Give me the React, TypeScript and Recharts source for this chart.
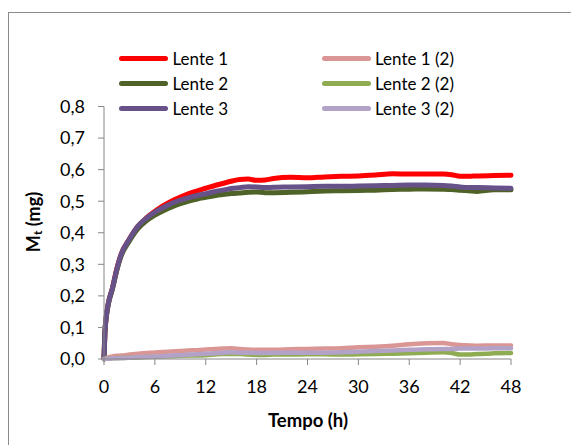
import { LineChart, Line, XAxis, YAxis } from "recharts";

const FONT = "Lato, 'Open Sans', sans-serif";

// tempo (h)
const tempo = [
  0, 0.1, 0.25, 0.5, 1, 1.5, 2, 3, 4, 5, 6, 7, 8, 9, 10, 11, 12, 13, 14, 15,
  16, 17, 18, 19, 20, 22, 24, 26, 28, 30, 32, 34, 36, 38, 40, 41, 42, 43, 44,
  46, 48,
];

const lente1 = [
  0, 0.08, 0.13, 0.175, 0.225, 0.285, 0.33, 0.38, 0.42, 0.447, 0.468, 0.486,
  0.501, 0.513, 0.524, 0.533, 0.541, 0.549, 0.556, 0.563, 0.569, 0.57, 0.566,
  0.567, 0.572, 0.576, 0.574, 0.577, 0.579, 0.58, 0.583, 0.587, 0.586, 0.586,
  0.586, 0.584, 0.579, 0.579, 0.58, 0.581, 0.582,
];
const lente2 = [
  0, 0.08, 0.128, 0.172, 0.222, 0.28, 0.325, 0.374, 0.413, 0.438, 0.456, 0.47,
  0.482, 0.492, 0.5, 0.507, 0.512, 0.517, 0.521, 0.524, 0.526, 0.528, 0.529,
  0.527, 0.527, 0.528, 0.53, 0.532, 0.533, 0.534, 0.535, 0.537, 0.538, 0.539,
  0.538, 0.537, 0.535, 0.533, 0.531, 0.536, 0.536,
];
const lente3 = [
  0, 0.081, 0.13, 0.175, 0.225, 0.283, 0.33, 0.38, 0.421, 0.446, 0.465, 0.48,
  0.493, 0.503, 0.511, 0.518, 0.524, 0.53, 0.535, 0.54, 0.543, 0.546, 0.545,
  0.543, 0.544, 0.545, 0.546, 0.547, 0.547, 0.548, 0.549, 0.55, 0.551, 0.551,
  0.55, 0.548, 0.545, 0.543, 0.543, 0.542, 0.541,
];
const lente1b = [
  0, 0.001, 0.003, 0.005, 0.008, 0.01, 0.011, 0.014, 0.017, 0.019, 0.021,
  0.022, 0.024, 0.025, 0.027, 0.028, 0.03, 0.032, 0.033, 0.034, 0.032, 0.03,
  0.029, 0.029, 0.029, 0.031, 0.032, 0.033, 0.034, 0.037, 0.039, 0.042, 0.047,
  0.05, 0.051, 0.047, 0.044, 0.043, 0.042, 0.043, 0.043,
];
const lente2b = [
  0, 0, 0.001, 0.001, 0.002, 0.003, 0.003, 0.004, 0.005, 0.006, 0.007, 0.008,
  0.009, 0.01, 0.011, 0.011, 0.012, 0.014, 0.016, 0.016, 0.016, 0.014, 0.013,
  0.013, 0.014, 0.014, 0.015, 0.015, 0.014, 0.015, 0.016, 0.017, 0.018, 0.02,
  0.021, 0.019, 0.014, 0.014, 0.016, 0.018, 0.019,
];
const lente3b = [
  0, 0, 0.001, 0.001, 0.002, 0.002, 0.003, 0.004, 0.006, 0.007, 0.008, 0.009,
  0.011, 0.012, 0.014, 0.015, 0.017, 0.018, 0.02, 0.021, 0.02, 0.02, 0.019,
  0.019, 0.019, 0.02, 0.02, 0.02, 0.021, 0.023, 0.025, 0.027, 0.029, 0.031,
  0.032, 0.032, 0.033, 0.033, 0.033, 0.034, 0.034,
];

const xTicks = [0, 6, 12, 18, 24, 30, 36, 42, 48];
const yTicks = [0, 0.1, 0.2, 0.3, 0.4, 0.5, 0.6, 0.7, 0.8];

const series = [
  { key: "l1", name: "Lente 1", values: lente1, color: "#ff0000", width: 5 },
  { key: "l2", name: "Lente 2", values: lente2, color: "#4f6228", width: 5 },
  { key: "l3", name: "Lente 3", values: lente3, color: "#675189", width: 5 },
  { key: "l1b", name: "Lente 1 (2)", values: lente1b, color: "#d99694", width: 4.5 },
  { key: "l2b", name: "Lente 2 (2)", values: lente2b, color: "#8fac52", width: 4.5 },
  { key: "l3b", name: "Lente 3 (2)", values: lente3b, color: "#b3a2c7", width: 4.5 },
];

const data = tempo.map((t, i) => {
  const row: Record<string, number> = { t };
  series.forEach((s) => (row[s.key] = s.values[i]));
  return row;
});

const fmt = (v: number) => v.toFixed(1).replace(".", ",");

function YTitle() {
  return (
    <text
      x={25}
      y={210}
      transform="rotate(-90 25 210)"
      textAnchor="middle"
      dominantBaseline="central"
      fontFamily={FONT}
      fontWeight={700}
      fontSize={18}
      fill="#000"
    >
      <tspan>M</tspan>
      <tspan fontSize={12} dy={4}>t</tspan>
      <tspan dy={-4}> (mg)</tspan>
    </text>
  );
}

function XTitle() {
  return (
    <text
      x={300}
      y={408}
      textAnchor="middle"
      dominantBaseline="central"
      fontFamily={FONT}
      fontWeight={700}
      fontSize={18.5}
      fill="#000"
    >
      Tempo (h)
    </text>
  );
}

export default function App() {
  const tick = { fontFamily: FONT, fontSize: 18, fill: "#000" };
  return (
    <div style={{ paddingTop: 4 }}>
      <div style={{ position: "relative", width: 571, height: 433 }}>
        <div
          style={{
            position: "absolute",
            inset: 0,
            borderTop: "1px solid #8a8a8a",
            borderLeft: "1px solid #8a8a8a",
            boxSizing: "border-box",
            pointerEvents: "none",
          }}
        />
        <LineChart
          width={571}
          height={433}
          data={data}
          margin={{ top: 94.5, right: 68, bottom: 56, left: 36 }}
        >
          <XAxis
            dataKey="t"
            type="number"
            domain={[0, 48]}
            ticks={xTicks}
            height={30}
            tickSize={6}
            tickMargin={15}
            stroke="#868686"
            tick={tick}
            label={<XTitle />}
          />
          <YAxis
            type="number"
            domain={[0, 0.8]}
            ticks={yTicks}
            tickFormatter={fmt}
            width={60}
            tickSize={6}
            tickMargin={13}
            stroke="#868686"
            tick={tick}
            label={<YTitle />}
          />
          {series.map((s) => (
            <Line
              key={s.key}
              dataKey={s.key}
              name={s.name}
              stroke={s.color}
              strokeWidth={s.width}
              strokeLinecap="round"
              dot={false}
              type="monotone"
              isAnimationActive={false}
            />
          ))}
        </LineChart>
        {series.map((s, i) => {
          const col = Math.floor(i / 3);
          const row = i % 3;
          return (
            <div
              key={s.key}
              style={{
                position: "absolute",
                left: col === 0 ? 111 : 313.5,
                top: 34.5 + row * 25,
                height: 24,
                display: "flex",
                alignItems: "center",
                fontFamily: FONT,
                fontSize: 17,
                color: "#000",
                whiteSpace: "nowrap",
              }}
            >
              <span
                style={{
                  display: "inline-block",
                  width: 49,
                  height: 5,
                  borderRadius: 3,
                  background: s.color,
                  marginRight: 4.5,
                }}
              />
              {s.name}
            </div>
          );
        })}
      </div>
    </div>
  );
}
